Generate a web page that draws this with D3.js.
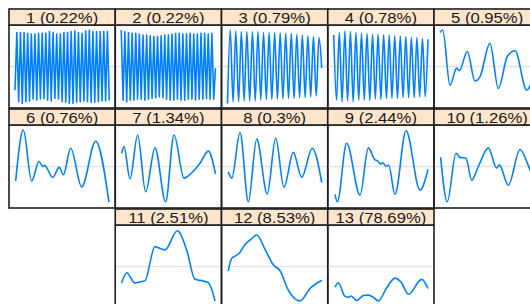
<!DOCTYPE html>
<html>
<head>
<meta charset="utf-8">
<script src="https://cdn.jsdelivr.net/npm/d3@7"></script>
<style>
  body { margin: 0; background: #ffffff; }
  #chart { width: 530px; height: 304px; overflow: hidden; }
</style>
</head>
<body>
<div id="chart"></div>
<script>
// Component numbers and their share of the eigenvalue sum (%)
const componentIds = [1, 2, 3, 4, 5, 6, 7, 8, 9, 10, 11, 12, 13];
const shares = [0.22, 0.22, 0.79, 0.78, 0.95, 0.76, 1.34, 0.3, 2.44, 1.26, 2.51, 8.53, 78.69];

// Fast oscillating vectors: evenly spaced samples (turning points)
const vec1 = [-0.57, 0.82, -0.85, 0.82, -0.89, 0.82, -0.85, 0.80, -0.83, 0.78, -0.78, 0.78, -0.81,
  0.80, -0.78, 0.80, -0.77, 0.80, -0.81, 0.84, -0.83, 0.82, -0.77, 0.78, -0.78, 0.78, -0.85,
  0.82, -0.86, 0.82, -0.89, 0.84, -0.89, 0.86, -0.86, 0.82, -0.85, 0.80, -0.83, 0.86, -0.85,
  0.87, -0.86, 0.84, -0.86, 0.84, -0.85, 0.84, -0.83, 0.84, -0.83, 0.84, -0.82];
const vec2 = [0.88, -0.81, 0.84, -0.85, 0.82, -0.81, 0.80, -0.81, 0.80, -0.79, 0.78, -0.79, 0.76,
  -0.81, 0.76, -0.79, 0.74, -0.77, 0.72, -0.75, 0.72, -0.73, 0.74, -0.75, 0.76, -0.79, 0.76,
  -0.81, 0.78, -0.81, 0.80, -0.79, 0.80, -0.81, 0.78, -0.81, 0.78, -0.79, 0.80, -0.79, 0.78,
  -0.81, 0.78, -0.79, 0.80, -0.79, 0.80, -0.77, 0.78, -0.79, 0.80, -0.79, -0.04];
const vec3 = [-0.89, 0.88, -0.85, 0.855, -0.85, 0.84, -0.83, 0.84, -0.83, 0.84, -0.83, 0.84,
  -0.81, 0.82, -0.80, 0.82, -0.80, 0.82, -0.78, 0.815, -0.78, 0.80, -0.77, 0.80, -0.77, 0.775,
  -0.75, 0.76, -0.75, 0.74, -0.73, 0.72, -0.71, 0.70, -0.04];
const vec4 = [0.76, -0.81, 0.82, -0.85, 0.855, -0.83, 0.84, -0.85, 0.82, -0.81, 0.80, -0.81, 0.80,
  -0.82, 0.775, -0.78, 0.775, -0.79, 0.76, -0.77, 0.76, -0.77, 0.74, -0.77, 0.735, -0.75, 0.72,
  -0.75, 0.70, -0.75, 0.695, -0.73, 0.68, -0.73, 0.655];

// Slow vectors: [position along the vector (0-100), value]
const vec5 = [[0, 0.82], [2.9, 0.88], [10.6, -0.45], [17.7, -0.04], [20.5, -0.10], [29, 0.36],
  [37.1, -0.35], [42.4, -0.25], [53, 0.56], [61.9, -0.53], [71.4, 0.24], [79.6, 0.38], [92, -0.57], [100, -0.15]];
const vec6 = [[0.7, -0.35], [8.8, 0.88], [17.7, -0.35], [25.5, 0.12], [29.4, 0.0], [31.5, 0.03],
  [33.6, -0.03], [40, -0.26], [47, -0.02], [51.3, -0.2], [59.1, 0.44], [70.8, -0.49], [85.6, 0.61], [99.7, -0.86]];
const vec7 = [[0.4, 0.32], [2.9, 0.48], [9.3, -0.30], [17.4, 0.76], [25.9, -0.61], [35.8, 0.45],
  [47.1, -0.85], [56, 0.76], [66.6, -0.28], [74.7, -0.15], [83.6, 0.08], [92.4, 0.37], [100, -0.18]];
const vec8 = [[0.8, -0.13], [4.5, -0.28], [13.3, 0.82], [22.1, -0.85], [31, 0.66], [42.2, -0.66],
  [51.1, 0.68], [59.9, -0.50], [69.8, 0.34], [78.7, -0.26], [90, 0.44], [100, -0.39]];
const vec9 = [[1.3, -0.67], [3.8, -0.85], [13.7, 0.56], [27.9, -0.69], [36.7, 0.45], [43.8, 0.16],
  [46.2, 0.14], [49.8, 0.06], [51.9, 0.09], [55.4, 0.01], [58.3, 0.03], [65, -0.67], [76.7, 0.86],
  [91.5, -0.57], [100, -0.07]];
const vec10 = [[0.7, 0.22], [7.7, -0.85], [17, 0.32], [21.2, 0.22], [27.6, 0.2], [33.6, -0.33],
  [40.7, 0.0], [51.3, 0.45], [60.2, -0.04], [62.9, 0.04], [72.5, -0.45], [84.9, 0.41], [95.5, -0.08], [100, -0.3]];
const vec11 = [[0.4, -0.40], [5.8, -0.15], [14.6, -0.40], [19.9, -0.37], [25.2, -0.34], [35.8, 0.48],
  [39.3, 0.45], [46.4, 0.40], [59.5, 0.86], [69.4, 0.40], [78.2, -0.31], [87.1, -0.35], [92.4, -0.39], [99.5, -0.83]];
const vec12 = [[0.8, -0.11], [4.5, 0.2], [8, 0.25], [12.5, 0.32], [18.6, 0.53], [25.2, 0.66], [31, 0.76],
  [40.1, 0.40], [48.6, 0.04], [55.7, -0.10], [64.5, -0.57], [76.9, -0.83], [87.5, -0.53], [100, -0.33]];
const vec13 = [[1.3, -0.50], [4.8, -0.39], [11.9, -0.72], [15.5, -0.74], [18.5, -0.71], [24.3, -0.82],
  [31.4, -0.70], [36.7, -0.69], [42, -0.74], [47.3, -0.83], [56.2, -0.51], [65, -0.28], [71.5, -0.38],
  [79.3, -0.67], [93.3, -0.31], [100, -0.53]];

const vectors = [vec1, vec2, vec3, vec4, vec5, vec6, vec7, vec8, vec9, vec10, vec11, vec12, vec13];

class VectorGrid {
    constructor(targetElementName) {
        this.targetElement = d3.select(`#${targetElementName}`);
        this.targetElement.html("");

        this.width = 530;
        this.height = 304;

        // Grid of 5 columns x 3 rows, the last row only partly filled
        this.columns = d3.scaleBand().domain(d3.range(5)).range([9, 540.25]);
        this.rows = d3.scaleBand().domain(d3.range(3)).range([9, 309]);
        this.stripHeight = 16;
        this.xPad = 6;
    }

    initPlot() {
        this.svg = this.targetElement.append("svg")
                                     .attr("width", this.width)
                                     .attr("height", this.height);
        this.defs = this.svg.append("defs");
    }

    // Row / column of each panel (13 panels, last three in the middle of row 3)
    cellOf(i) {
        if (i < 10) return [Math.floor(i / 5), i % 5];
        return [2, i - 9];
    }

    drawPanel(i) {
        let [r, c] = this.cellOf(i);
        let left = this.columns(c);
        let right = left + this.columns.bandwidth();
        let top = this.rows(r);
        let plotTop = top + this.stripHeight;
        let plotBottom = top + this.rows.bandwidth() - 1;

        let g = this.svg.append("g");

        // Clip the curve to its panel
        this.defs.append("clipPath")
                 .attr("id", `clip-${i}`)
                 .append("rect")
                 .attr("x", left)
                 .attr("y", plotTop)
                 .attr("width", right - left)
                 .attr("height", plotBottom - plotTop);

        let y = d3.scaleLinear()
                  .domain([-1, 1])
                  .range([plotBottom, plotTop]);

        let raw = vectors[i];
        let points, x;
        if (typeof raw[0] === "number") {
            // evenly spaced samples
            x = d3.scaleLinear()
                  .domain([0, raw.length - 1])
                  .range([left + this.xPad, right - this.xPad]);
            points = raw.map((v, k) => [k, v]);
        } else {
            x = d3.scaleLinear()
                  .domain([0, 100])
                  .range([left + this.xPad, right - this.xPad]);
            points = raw;
        }

        // Zero reference
        g.append("line")
         .attr("x1", left)
         .attr("x2", right)
         .attr("y1", y(0))
         .attr("y2", y(0))
         .style("stroke", "#e4e4e4")
         .style("stroke-width", 1.4);

        let curve = i < 2 ? d3.curveLinear : d3.curveMonotoneX;
        let line = d3.line()
                     .x(d => x(d[0]))
                     .y(d => y(d[1]))
                     .curve(curve);

        g.append("path")
         .datum(points)
         .attr("clip-path", `url(#clip-${i})`)
         .attr("d", line)
         .style("fill", "none")
         .style("stroke", "#0080ff")
         .style("stroke-width", 1.6)
         .style("stroke-linejoin", "round");

        // Panel box
        g.append("rect")
         .attr("x", left)
         .attr("y", plotTop)
         .attr("width", right - left)
         .attr("height", plotBottom - plotTop)
         .style("fill", "none")
         .style("stroke", "#1e1e1e")
         .style("stroke-width", 1.6);

        // Strip with the component label
        g.append("rect")
         .attr("x", left)
         .attr("y", top)
         .attr("width", right - left)
         .attr("height", this.stripHeight)
         .style("fill", "#ffe5cc")
         .style("stroke", "#1e1e1e")
         .style("stroke-width", 1.6);

        g.append("text")
         .attr("transform", `translate(${(left + right) / 2}, ${top + 13.8}) scale(1.15, 1)`)
         .attr("text-anchor", "middle")
         .style("font-family", "'Liberation Sans', Arial, sans-serif")
         .style("font-size", "14.5px")
         .style("fill", "#1a1a1a")
         .text(`${componentIds[i]} (${shares[i]}%)`);
    }

    drawPlot() {
        componentIds.forEach((id, i) => this.drawPanel(i));
    }
}

let grid = new VectorGrid("chart");
grid.initPlot();
grid.drawPlot();
</script>
</body>
</html>
